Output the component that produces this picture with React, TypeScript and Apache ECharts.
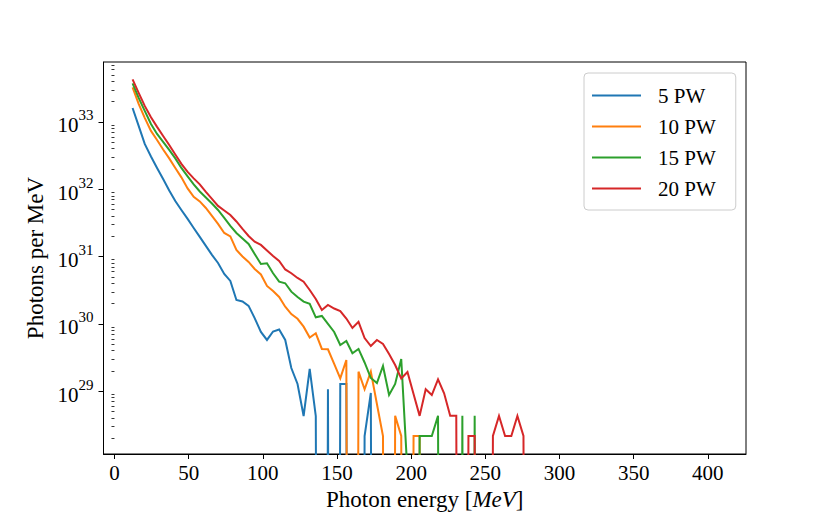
import React, { useEffect, useRef } from "react";
import * as echarts from "echarts";

// Bin energies (MeV)
const energies = [
  12.2, 16.3, 20.4, 24.6, 28.7, 32.8, 36.9, 41.0, 45.1, 49.3,
  53.4, 57.5, 61.6, 65.7, 69.8, 74.0, 78.1, 82.2, 86.3, 90.4,
  94.5, 98.7, 102.8, 106.9, 111.0, 115.1, 119.2, 123.4, 127.5, 131.6,
  135.7, 139.8, 143.9, 148.1, 152.2, 156.3, 160.4, 164.5, 168.6, 172.8,
  176.9, 181.0, 185.1, 189.2, 193.3, 197.5, 201.6, 205.7, 209.8, 213.9,
  218.1, 222.2, 226.3, 230.4, 234.5, 238.6, 242.8, 246.9, 251.0, 255.1,
  259.2, 263.3, 267.5, 271.6, 275.7, 279.8,
];

// Photons per MeV, one value per bin (0 = empty bin)
const pw5 = [
  1.61e33, 8.72e32, 4.71e32, 3.07e32, 2.07e32, 1.42e32, 9.6e31, 6.7e31, 4.92e31, 3.62e31,
  2.66e31, 1.96e31, 1.44e31, 1.06e31, 8.03e30, 5.51e30, 4.34e30, 2.26e30, 2.15e30, 1.85e30,
  1.22e30, 7.58e29, 5.77e29, 7.71e29, 8.26e29, 5.77e29, 2.21e29, 1.28e29, 4.28e28, 2.14e29,
  4.28e28, 0, 1.07e29, 0, 1.28e29, 1.28e29, 0, 0, 2.16e28, 9.4e28,
  0, 0, 0, 0, 0, 0, 0, 0, 0, 0,
  0, 0, 0, 0, 0, 0, 0, 0, 0, 0,
  0, 0, 0, 0, 0, 0,
];
const pw10 = [
  3.26e33, 1.85e33, 1.15e33, 7.35e32, 5.4e32, 3.9e32, 2.87e32, 2.07e32, 1.5e32, 1.03e32,
  7.69e31, 6.59e31, 5.27e31, 4.01e31, 3.05e31, 2.24e31, 1.99e31, 1.25e31, 1.0e31, 8.31e30,
  6.54e30, 5.42e30, 3.66e30, 3.08e30, 2.51e30, 1.8e30, 1.4e30, 1.19e30, 9.09e29, 6.28e29,
  7.25e29, 4.24e29, 4.19e29, 2.54e29, 1.55e29, 2.91e29, 0, 1.95e29, 1.07e29, 1.95e29,
  6.45e28, 2.16e28, 0, 4.3e28, 2.16e28, 0, 2.16e28, 2.16e28, 0, 0,
  0, 0, 0, 0, 0, 0, 0, 0, 0, 0,
  0, 0, 0, 0, 0, 0,
];
const pw15 = [
  3.73e33, 2.27e33, 1.46e33, 9.34e32, 6.63e32, 5.04e32, 3.84e32, 2.87e32, 2.07e32, 1.55e32,
  1.18e32, 9.27e31, 7.55e31, 6.15e31, 4.92e31, 3.75e31, 2.85e31, 2.24e31, 1.86e31, 1.54e31,
  1.09e31, 7.76e30, 7.95e30, 5.65e30, 4.24e30, 4.01e30, 3.01e30, 2.51e30, 2.14e30, 1.98e30,
  1.25e30, 1.31e30, 9.97e29, 7.58e29, 4.86e29, 5.57e29, 3.66e29, 4.24e29, 2.67e29, 1.57e29,
  1.32e29, 2.37e29, 8.78e28, 1.28e29, 3.01e29, 6.1e27, 0, 2.16e28, 2.16e28, 2.16e28,
  4.3e28, 0, 0, 0, 4.3e28, 0, 4.3e28, 0, 0, 0,
  0, 0, 0, 0, 0, 0,
];
const pw20 = [
  4.28e33, 2.7e33, 1.73e33, 1.17e33, 8.43e32, 6.19e32, 4.55e32, 3.29e32, 2.38e32, 1.81e32,
  1.45e32, 1.18e32, 9.12e31, 7.18e31, 5.65e31, 4.84e31, 4.15e31, 3.32e31, 2.57e31, 2.02e31,
  1.66e31, 1.49e31, 1.23e31, 1.02e31, 8.6e30, 6.43e30, 5.65e30, 4.81e30, 4.24e30, 3.19e30,
  2.34e30, 1.61e30, 1.91e30, 1.69e30, 1.55e30, 1.2e30, 8.69e29, 1.07e30, 6.17e29, 4.69e29,
  5.77e29, 5.03e29, 3.57e29, 2.45e29, 1.55e29, 1.93e29, 9.09e28, 4.3e28, 1.07e29, 8.78e28,
  1.5e29, 9.31e28, 4.3e28, 4.3e28, 0, 2.16e28, 2.16e28, 0, 0, 2.16e28,
  4.3e28, 2.16e28, 2.16e28, 4.3e28, 2.16e28, 0,
];

const seriesNames = ["5 PW", "10 PW", "15 PW", "20 PW"];
const seriesValues = [pw5, pw10, pw15, pw20];
const seriesColors = ["#1f77b4", "#ff7f0e", "#2ca02c", "#d62728"];

const xTicks = [0, 50, 100, 150, 200, 250, 300, 350, 400];
const yMajorExponents = [29, 30, 31, 32, 33];

const FONT = '"Liberation Serif", "Times New Roman", serif';

const Y_MIN = 28.067;
const Y_MAX = 33.89;
const X_MIN = -7.4;
const X_MAX = 425.7;

function minorLogTicks(): number[] {
  const out: number[] = [];
  for (let n = 28; n <= 33; n++) {
    for (let k = 2; k <= 9; k++) {
      const v = n + Math.log10(k);
      if (v > Y_MIN && v < Y_MAX) out.push(v);
    }
  }
  return out;
}

function toLog(v: number): number {
  // empty bins fall far below the axis, as on a log scale
  return v > 0 ? Math.log10(v) : 0;
}

export default function App() {
  const ref = useRef<HTMLDivElement>(null);

  useEffect(() => {
    const chart = echarts.init(ref.current as HTMLDivElement, null, { renderer: "svg" });

    const series = seriesNames.map((name, i) => ({
      name,
      type: "line",
      data: energies.map((e, j) => [e, toLog(seriesValues[i][j])]),
      showSymbol: false,
      symbol: "none",
      clip: true,
      color: seriesColors[i],
      itemStyle: { color: seriesColors[i] },
      lineStyle: { width: 2, color: seriesColors[i], join: "miter" },
      emphasis: { disabled: true },
      yAxisIndex: 0,
    }));

    const option = {
      animation: false,
      backgroundColor: "#ffffff",
      textStyle: { fontFamily: FONT },
      grid: {
        left: 103.5,
        top: 62,
        right: 84,
        bottom: 65,
        show: true,
        borderColor: "#000000",
        borderWidth: 1,
        backgroundColor: "transparent",
      },
      legend: {
        show: true,
        data: seriesNames,
        orient: "vertical",
        left: 584,
        top: 73,
        icon: "rect",
        itemWidth: 49,
        itemHeight: 2,
        itemGap: 10,
        padding: [12, 20, 11, 8],
        backgroundColor: "rgba(255,255,255,0.8)",
        borderColor: "#cccccc",
        borderWidth: 1,
        borderRadius: 4,
        textStyle: {
          fontFamily: FONT,
          fontSize: 21,
          color: "#000000",
          padding: [0, 0, 0, 12],
          lineHeight: 20,
        },
        selectedMode: false,
      },
      xAxis: {
        type: "value",
        min: X_MIN,
        max: X_MAX,
        name: "Photon energy [{i|MeV}]",
        nameLocation: "middle",
        nameGap: 29,
        nameTextStyle: {
          fontFamily: FONT,
          fontSize: 23,
          color: "#000000",
          rich: {
            i: { fontFamily: FONT, fontSize: 23, fontStyle: "italic", color: "#000000" },
          },
        },
        axisLine: { show: true, onZero: false, lineStyle: { color: "#000000", width: 1 } },
        axisTick: {
          show: true,
          inside: false,
          length: 5,
          customValues: xTicks,
          lineStyle: { color: "#000000", width: 1 },
        },
        axisLabel: {
          show: true,
          customValues: xTicks,
          margin: 8,
          fontFamily: FONT,
          fontSize: 21,
          color: "#000000",
        },
        splitLine: { show: false },
      },
      yAxis: [
        {
          type: "value",
          min: Y_MIN,
          max: Y_MAX,
          name: "Photons per MeV",
          nameLocation: "middle",
          nameGap: 54,
          nameRotate: 90,
          nameTextStyle: { fontFamily: FONT, fontSize: 23, color: "#000000" },
          axisLine: { show: true, onZero: false, lineStyle: { color: "#000000", width: 1 } },
          axisTick: {
            show: true,
            inside: false,
            length: 5,
            customValues: yMajorExponents,
            lineStyle: { color: "#000000", width: 1 },
          },
          axisLabel: {
            show: true,
            customValues: yMajorExponents,
            margin: 10,
            formatter: (v: number) => `{b|10}{s|${Math.round(v)}}`,
            rich: {
              b: { fontFamily: FONT, fontSize: 21, color: "#000000", lineHeight: 28, verticalAlign: "bottom" },
              s: { fontFamily: FONT, fontSize: 15, color: "#000000", lineHeight: 28, verticalAlign: "top" },
            },
          },
          splitLine: { show: false },
        },
        {
          type: "value",
          min: Y_MIN,
          max: Y_MAX,
          position: "left",
          axisLine: { show: false },
          axisTick: {
            show: true,
            inside: false,
            length: 3,
            customValues: minorLogTicks(),
            lineStyle: { color: "#000000", width: 0.8 },
          },
          axisLabel: { show: false },
          splitLine: { show: false },
        },
      ],
      series,
    };

    chart.setOption(option as any);
    return () => chart.dispose();
  }, []);

  return (
    <div
      ref={ref}
      style={{ position: "fixed", left: 0, top: 0, width: 830, height: 519 }}
    />
  );
}
